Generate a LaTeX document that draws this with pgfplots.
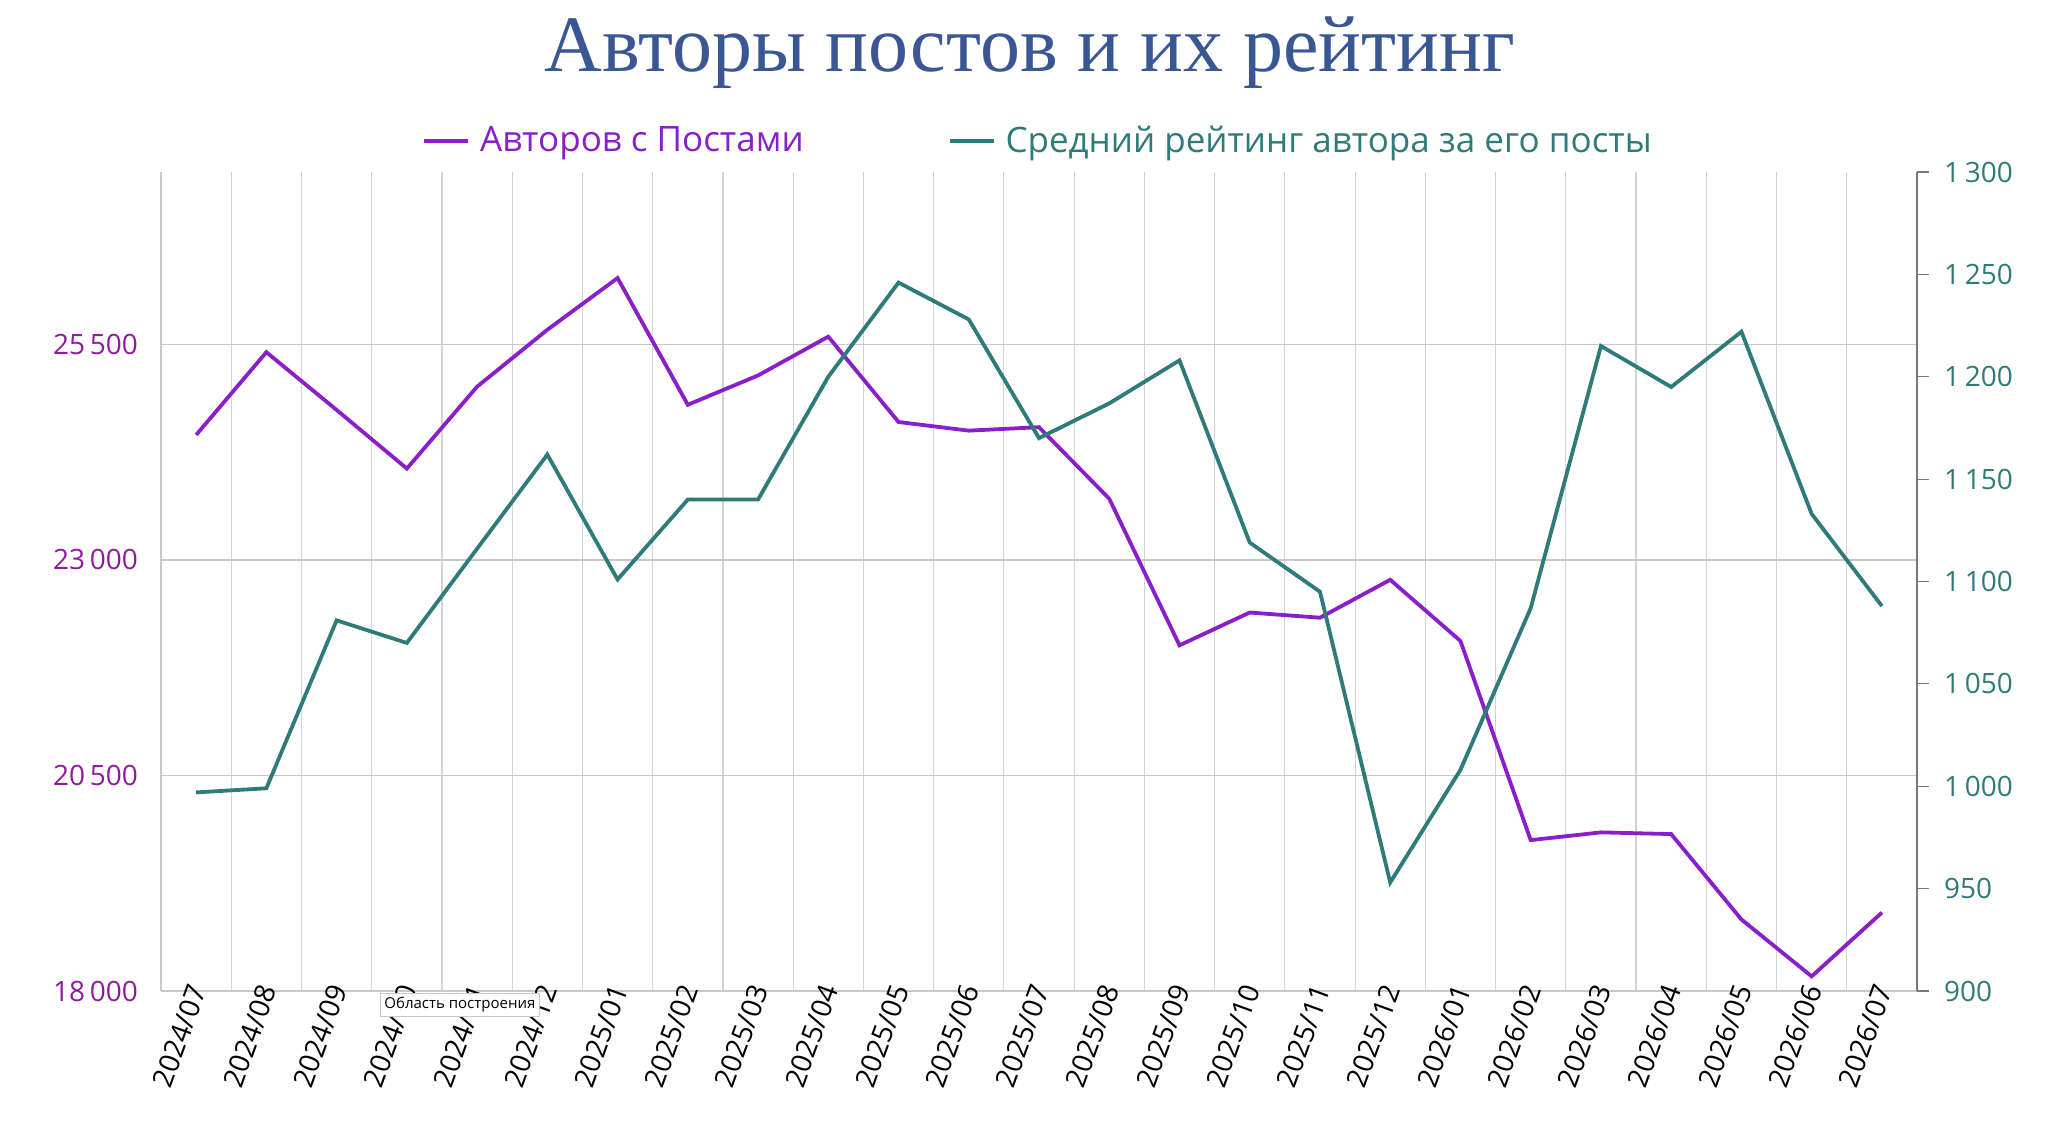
\documentclass[border=0pt]{standalone}
\usepackage{pgfplots}
\pgfplotsset{compat=1.18}
\usepackage{fontspec}
\setmainfont{Open Sans}
\newfontfamily\titlefont{Liberation Serif}
\definecolor{pur}{HTML}{8A1FC9}
\definecolor{purt}{HTML}{8E1C9E}
\definecolor{teal}{HTML}{2F7B79}
\definecolor{tit}{HTML}{3A5794}
\definecolor{gr}{HTML}{C8C8C8}
\begin{document}
\begin{tikzpicture}
\useasboundingbox (0,0) rectangle (1024pt,572.5pt);
\node[font=\titlefont\fontsize{40}{42}\selectfont, text=tit] at (515pt,546pt) {Авторы постов и их рейтинг};
\begin{axis}[at={(80.5pt,77pt)}, anchor=south west, scale only axis,
 width=878pt, height=409.5pt,
 xmin=-0.5, xmax=24.5, ymin=18000, ymax=27500,
 ytick={18000,20500,23000,25500},
 scaled y ticks=false,
 /pgf/number format/assume math mode=true,
 /pgf/number format/1000 sep={\,},
 yticklabel style={font=\fontsize{14}{15}\selectfont, text=purt, xshift=-8pt},
 xtick={0,...,24},
 xticklabels={2024/07,2024/08,2024/09,2024/10,2024/11,2024/12,2025/01,2025/02,2025/03,2025/04,2025/05,2025/06,2025/07,2025/08,2025/09,2025/10,2025/11,2025/12,2026/01,2026/02,2026/03,2026/04,2026/05,2026/06,2026/07},
 xticklabel style={font=\fontsize{14}{15}\selectfont, rotate=70, anchor=east, xshift=6pt},
 minor xtick={-0.5,0.5,...,24.5},
 xminorgrids, ymajorgrids,
 minor grid style={gr!80, line width=0.6pt},
 major grid style={gr, line width=0.6pt},
 major tick length=0pt, minor tick length=0pt,
 axis x line*=bottom, axis y line*=left,
 axis line style={gr, line width=0.6pt},
 legend style={at={(0.5,1.01)}, anchor=south, draw=none, font=\fontsize{17.5}{19}\selectfont, legend columns=2, /tikz/every even column/.append style={column sep=70pt}},
 legend image code/.code={\draw[#1, line width=2pt] (0pt,0pt) -- (22pt,0pt);},
 legend cell align=left,
]
\addplot[pur, line width=1.9pt] coordinates {
(0,24450)(1,25410)(2,24740)(3,24060)(4,25010)(5,25670)(6,26270)(7,24800)(8,25140)(9,25590)(10,24600)(11,24500)(12,24540)(13,23710)(14,22010)(15,22390)(16,22330)(17,22770)(18,22060)(19,19750)(20,19840)(21,19820)(22,18830)(23,18170)(24,18910)};
\addlegendentry{\,\textcolor{pur}{Авторов с Постами}}
\addlegendimage{teal, line width=1.9pt}
\addlegendentry{\,\textcolor{teal}{Средний рейтинг автора за его посты}}
\end{axis}
\begin{axis}[at={(80.5pt,77pt)}, anchor=south west, scale only axis,
 width=878pt, height=409.5pt,
 xmin=-0.5, xmax=24.5, ymin=900, ymax=1300,
 ytick={900,950,...,1300},
 /pgf/number format/assume math mode=true,
 /pgf/number format/1000 sep={\,},
 yticklabel style={font=\fontsize{14}{15}\selectfont, text=teal, xshift=4pt},
 axis x line=none, axis y line*=right,
 axis line style={gr!60!black, line width=0.6pt},
 y tick style={gr!60!black, line width=0.6pt},
 tick align=outside, major tick length=6pt,
]
\addplot[teal, line width=1.9pt] coordinates {
(0,997)(1,999)(2,1081)(3,1070)(4,1116)(5,1162)(6,1101)(7,1140)(8,1140)(9,1200)(10,1246)(11,1228)(12,1170)(13,1187)(14,1208)(15,1119)(16,1095)(17,953)(18,1008)(19,1087)(20,1215)(21,1195)(22,1222)(23,1133)(24,1088)};
\end{axis}
\node[draw=gr, fill=white, font=\fontsize{7.5}{8}\selectfont, inner sep=2pt, anchor=north west] at (190pt,76pt) {Область построения};
\end{tikzpicture}
\end{document}
